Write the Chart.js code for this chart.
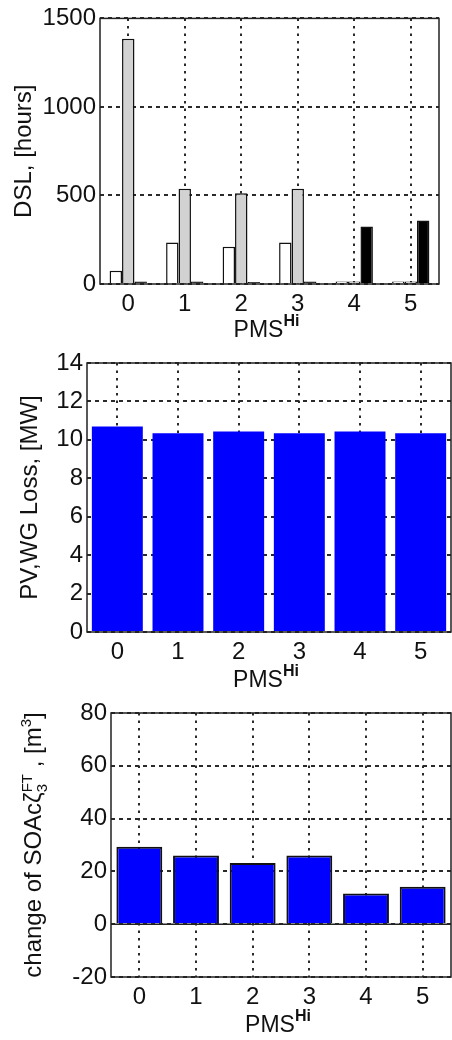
<!DOCTYPE html>
<html lang="en">
<head>
  <meta charset="UTF-8">
  <title>PMS Hi charts</title>
  <style>
    html, body { margin: 0; padding: 0; background: #fff; overflow: hidden; }
    .panel { position: absolute; left: 0; width: 452px; }
    canvas { display: block; }
  </style>
</head>
<body>
  <div class="panel" style="top:0px"><canvas id="dsl" width="452" height="340"></canvas></div>
  <div class="panel" style="top:340px"><canvas id="loss" width="452" height="350"></canvas></div>
  <div class="panel" style="top:690px"><canvas id="soac" width="452" height="350"></canvas></div>
  <script src="https://cdn.jsdelivr.net/npm/chart.js"></script>
  <script>
    // values
    const pmsLevels = ['0', '1', '2', '3', '4', '5'];
    const dslWhite = [75, 235, 210, 235, 14, 14];
    const dslGray = [1385, 538, 512, 538, 14, 14];
    const dslBlack = [14, 14, 12, 14, 325, 358];
    const pvwgLoss = [10.7, 10.35, 10.43, 10.35, 10.43, 10.35];
    const soacChange = [29.3, 26, 23.2, 26, 11.6, 14.2];

    const FONT = '"Liberation Sans", Arial, sans-serif';
    const GRID = '#2a2a2a';

    // draws a run of text pieces, optionally with super/subscripts
    function drawPieces(ctx, pieces) {
      let total = 0;
      pieces.forEach(p => {
        if (p.stack) {
          ctx.font = p.size + 'px ' + FONT;
          p.w = Math.max(ctx.measureText(p.sup).width, ctx.measureText(p.sub).width);
        } else {
          ctx.font = (p.bold ? 'bold ' : '') + p.size + 'px ' + FONT;
          p.w = ctx.measureText(p.t).width;
        }
        total += p.w;
      });
      let x = -total / 2;
      pieces.forEach(p => {
        if (p.stack) {
          ctx.font = p.size + 'px ' + FONT;
          ctx.fillText(p.sup, x, -9);
          ctx.fillText(p.sub, x, 6);
        } else {
          ctx.font = (p.bold ? 'bold ' : '') + p.size + 'px ' + FONT;
          ctx.fillText(p.t, x, p.dy || 0);
        }
        x += p.w;
      });
    }

    const pmsTitle = [
      { t: 'PMS', size: 23 },
      { t: 'Hi', size: 16, bold: true, dy: -11 }
    ];

    function framePlugin(cfg) {
      return {
        id: 'frame',
        afterDatasetsDraw(chart) {
          const a = chart.chartArea;
          const ctx = chart.ctx;
          ctx.save();
          ctx.strokeStyle = '#222';
          ctx.lineWidth = 1.5;
          if (cfg.zeroLine) {
            const y0 = chart.scales.y.getPixelForValue(0);
            ctx.beginPath();
            ctx.moveTo(a.left, y0);
            ctx.lineTo(a.right, y0);
            ctx.stroke();
          }
          ctx.strokeRect(a.left, a.top, a.right - a.left, a.bottom - a.top);
          ctx.fillStyle = '#111';
          ctx.textAlign = 'left';
          ctx.textBaseline = 'alphabetic';
          // x title
          ctx.save();
          ctx.translate((a.left + a.right) / 2 - 3, cfg.xTitleY);
          drawPieces(ctx, pmsTitle);
          ctx.restore();
          // y title, rotated
          ctx.save();
          ctx.translate(cfg.yTitleX, (a.top + a.bottom) / 2);
          ctx.rotate(-Math.PI / 2);
          drawPieces(ctx, cfg.yTitle);
          ctx.restore();
          ctx.restore();
        }
      };
    }

    function makeChart(id, datasets, cfg) {
      const canvas = document.getElementById(id);
      const h = canvas.height;
      return new Chart(canvas.getContext('2d'), {
        type: 'bar',
        data: { labels: pmsLevels, datasets: datasets },
        options: {
          responsive: false,
          animation: false,
          devicePixelRatio: 1,
          layout: { padding: { top: cfg.top, right: 452 - cfg.right, left: 0, bottom: 0 } },
          plugins: { legend: { display: false }, tooltip: { enabled: false } },
          scales: {
            x: {
              grid: { color: GRID, lineWidth: 2, offset: false, drawTicks: false },
              border: { display: false, dash: [2.5, 5] },
              ticks: { color: '#111', padding: 6, font: { family: FONT, size: 24 } },
              afterFit: s => { s.height = h - cfg.bottom; }
            },
            y: {
              min: cfg.min,
              max: cfg.max,
              grid: { color: GRID, lineWidth: 2, drawTicks: false },
              border: { display: false, dash: [4, 4] },
              ticks: {
                stepSize: cfg.step,
                color: '#111',
                padding: 4,
                font: { family: FONT, size: 24 },
                callback: v => String(v)
              },
              afterFit: s => { s.width = cfg.left; }
            }
          }
        },
        plugins: [framePlugin(cfg)]
      });
    }

    makeChart('dsl', [
      { data: dslWhite, backgroundColor: '#ffffff', borderColor: '#111', borderWidth: 1.5,
        categoryPercentage: 0.66, barPercentage: 1.0 },
      { data: dslGray, backgroundColor: '#d2d2d2', borderColor: '#111', borderWidth: 1.5,
        categoryPercentage: 0.66, barPercentage: 1.0 },
      { data: dslBlack, backgroundColor: '#000000', borderColor: '#111', borderWidth: 1.5,
        categoryPercentage: 0.66, barPercentage: 1.0 }
    ], {
      left: 100, right: 439, top: 16, bottom: 284,
      min: 0, max: 1500, step: 500,
      xTitleY: 337, yTitleX: 31,
      yTitle: [{ t: 'DSL, [hours]', size: 24 }]
    });

    makeChart('loss', [
      { data: pvwgLoss, backgroundColor: '#0000ff', borderWidth: 0,
        categoryPercentage: 0.84, barPercentage: 1.0 }
    ], {
      left: 87, right: 451, top: 23, bottom: 292,
      min: 0, max: 14, step: 2,
      xTitleY: 347, yTitleX: 37,
      yTitle: [{ t: 'PV,WG Loss, [MW]', size: 24 }]
    });

    makeChart('soac', [
      { data: soacChange, backgroundColor: '#0000ff', borderColor: '#111', borderWidth: 2,
        categoryPercentage: 0.81, barPercentage: 1.0 }
    ], {
      left: 111, right: 451, top: 23, bottom: 287,
      min: -20, max: 80, step: 20, zeroLine: true,
      xTitleY: 342, yTitleX: 41,
      yTitle: [
        { t: 'change of SOAcζ', size: 24 },
        { stack: true, sup: 'FT', sub: '3', size: 15 },
        { t: ' , [m', size: 24 },
        { t: '3', size: 15, dy: -10 },
        { t: ']', size: 24 }
      ]
    });
  </script>
</body>
</html>
